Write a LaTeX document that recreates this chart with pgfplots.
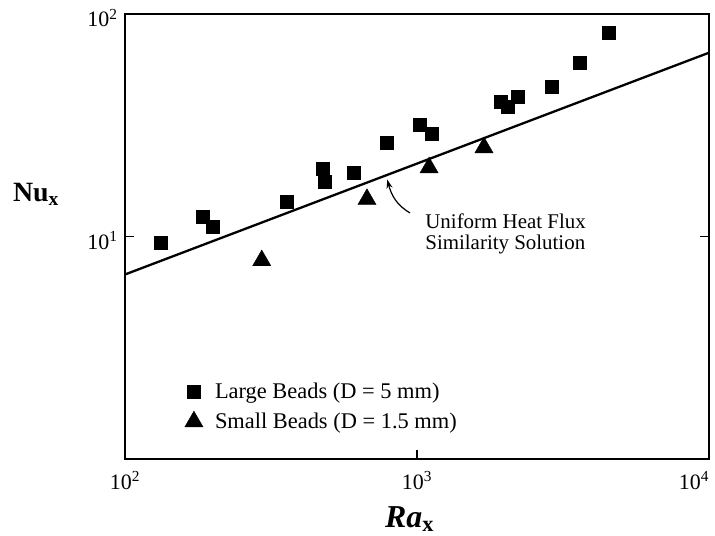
\documentclass[border=0pt]{standalone}
\usepackage{pgfplots}
\pgfplotsset{compat=1.18}
\usepackage{fontspec}
\setmainfont{Liberation Serif}
\usetikzlibrary{arrows.meta}
\begin{document}
\begin{tikzpicture}
\begin{axis}[
  at={(0,0)}, anchor=south west,
  scale only axis, width=584bp, height=445bp,
  xmode=log, ymode=log,
  xmin=100, xmax=10000, ymin=1, ymax=100,
  xtick={100,1000,10000}, ytick={10,100},
  xticklabels={10\textsuperscript{2},10\textsuperscript{3},\hspace*{-30bp}10\textsuperscript{4}},
  yticklabels={10\textsuperscript{1},\raisebox{-9bp}{10\textsuperscript{2}}},
  xminorticks=false, yminorticks=false,
  tick align=inside, major tick length=9bp,
  xtick pos=left, ytick pos=both,
  tick style={line width=1.2bp, black},
  axis line style={line width=1.4bp},
  ticklabel style={font=\fontsize{22}{24}\selectfont},
  xticklabel style={yshift=-9bp},
  yticklabel style={xshift=-4bp, yshift=-4bp},
  clip=false,
  legend style={draw=none, fill=none, at={(rel axis cs:0.097,0.18)}, anchor=north west,
    font=\fontsize{22.5}{25}\selectfont, row sep=9bp,
    /tikz/every odd column/.append style={column sep=10bp}},
  legend cell align=left,
]
\addplot[only marks, mark=square*, mark size=6.5bp, black] coordinates {
(132.8,9.40) (184.9,12.3) (200,11.1) (358.8,14.4) (476,20.2) (484,17.6)
(608,19.4) (789,26.4) (1024,31.8) (1125,29.0) (1940,40.3) (2050,38.3)
(2218,42.4) (2900,47.1) (3615,60.3) (4547,82.2)
};
\addlegendentry{Large Beads (D = 5 mm)}
\addplot[only marks, mark=triangle*, mark size=10.5bp, black] coordinates {
(294,7.8) (674,14.7) (1100,20.4) (1696,25.1)
};
\addlegendentry{Small Beads (D = 1.5 mm)}
\addplot[forget plot, line width=2.3bp, black] coordinates {(100,6.75) (10000,67)};

\node[anchor=north west, align=left, inner sep=0pt, font=\fontsize{21}{21.5}\selectfont]
  at (rel axis cs:0.514,0.552) {Uniform Heat Flux\\Similarity Solution};
\draw[line width=1.2bp, -{Stealth[length=9bp,width=6bp]}]
  (rel axis cs:0.488,0.553) to[out=150,in=-75] (rel axis cs:0.449,0.628);

\node[anchor=base west, inner sep=0pt, font=\fontsize{28}{30}\selectfont\bfseries]
  at (rel axis cs:-0.192,0.578) {Nu\textsubscript{x}};
\node[anchor=base west, inner sep=0pt, font=\fontsize{32}{34}\selectfont\bfseries]
  at (rel axis cs:0.445,-0.155) {\textit{Ra}\textsubscript{x}};
\end{axis}
\pgfresetboundingbox
\path[use as bounding box] (-125bp,-77bp) rectangle (590bp,459bp);
\end{tikzpicture}
\end{document}
